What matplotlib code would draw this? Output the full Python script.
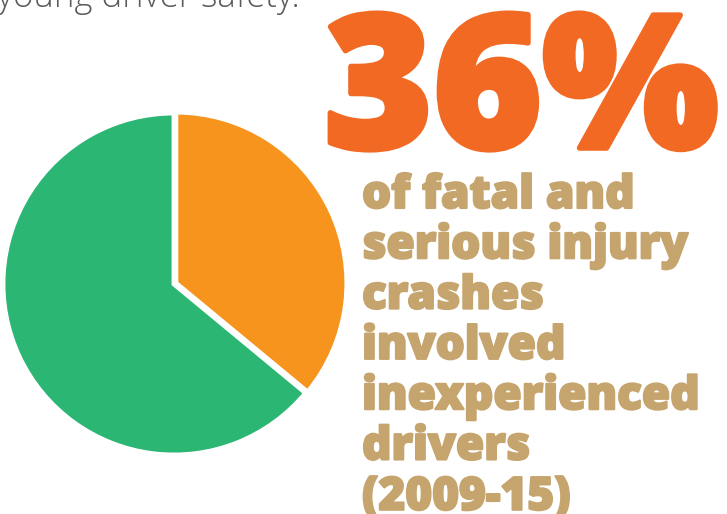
import matplotlib
matplotlib.use('Agg')
import matplotlib.pyplot as plt
import matplotlib.patheffects as pe

# Share of fatal and serious injury crashes (%)
labels = ['Inexperienced drivers', 'Other']
shares = [36, 64]
colors = ['#F7941D', '#2BB673']

headline = '36%'
caption = ['of fatal and', 'serious injury', 'crashes', 'involved',
           'inexperienced', 'drivers', '(2009-15)']
lead_in = 'young driver safety.'

W, H = 727, 514
fig = plt.figure(figsize=(W / 100, H / 100), dpi=100)
fig.patch.set_facecolor('white')

# Pie centre and radius in pixels
cx, cy, r = 174, 284, 171
ax = fig.add_axes([(cx - r) / W, (H - cy - r) / H, 2 * r / W, 2 * r / H])
ax.pie(shares, colors=colors, startangle=90, counterclock=False,
       explode=[0.012, 0], wedgeprops=dict(edgecolor='white', linewidth=3.5))
ax.set_xlim(-1.0, 1.0)
ax.set_ylim(-1.0, 1.0)
ax.set_aspect('equal')
ax.axis('off')


def px(x, y):
    return x / W, 1 - y / H


# Lead-in text cut by the top edge
fig.text(*px(-3, 7), lead_in, fontsize=25, color='#58595B',
         family='Open Sans', fontweight='light', va='baseline', ha='left')

# Big percentage
fig.text(*px(324, 148), headline, fontsize=134, color='#F26924',
         family='Open Sans', fontweight=800, va='baseline', ha='left',
         path_effects=[pe.withStroke(linewidth=4, foreground='#F26924')])

# Caption lines
for i, line in enumerate(caption):
    fig.text(*px(362, 208 + 50.3 * i), line, fontsize=33, color='#C5A46D',
             family='Open Sans', fontweight=800, va='baseline', ha='left',
             path_effects=[pe.withStroke(linewidth=1.5, foreground='#C5A46D')])

fig.savefig('out.png', dpi=100, facecolor='white')
